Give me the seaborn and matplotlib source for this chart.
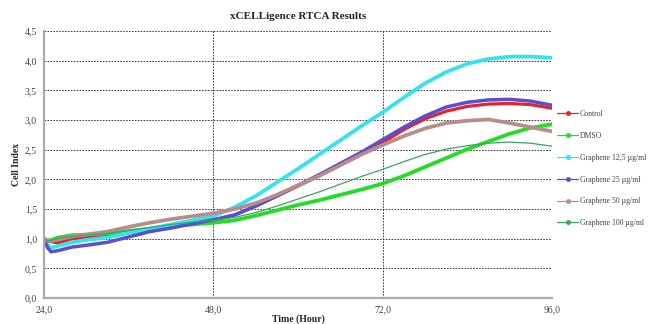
import numpy as np
import pandas as pd
import matplotlib
matplotlib.use("Agg")
import matplotlib.pyplot as plt
from matplotlib.lines import Line2D
from matplotlib.ticker import FuncFormatter
import seaborn as sns

# zeitpunkte (stunden)
time_h = [24, 24.5, 25, 26, 28, 30, 33, 36, 39, 42, 45, 48, 51, 54, 57, 60,
          63, 66, 69, 72, 75, 78, 81, 84, 87, 90, 93, 96]

# cell index werte
control = [1.00, 0.97, 0.95, 0.93, 1.00, 1.02, 1.04, 1.10, 1.16, 1.22, 1.27, 1.31, 1.40, 1.55,
           1.72, 1.89, 2.06, 2.24, 2.43, 2.62, 2.84, 3.02, 3.15, 3.23, 3.27, 3.28, 3.26, 3.20]
dmso = [1.00, 0.97, 0.98, 1.02, 1.06, 1.07, 1.09, 1.13, 1.17, 1.21, 1.24, 1.27, 1.31, 1.39,
        1.48, 1.57, 1.65, 1.74, 1.83, 1.93, 2.06, 2.21, 2.36, 2.51, 2.64, 2.77, 2.87, 2.93]
g12_5 = [1.00, 0.90, 0.85, 0.88, 0.94, 0.98, 1.02, 1.10, 1.17, 1.24, 1.31, 1.38, 1.53, 1.72,
         1.95, 2.18, 2.42, 2.66, 2.90, 3.13, 3.38, 3.62, 3.81, 3.95, 4.03, 4.07, 4.07, 4.05]
g25 = [1.00, 0.85, 0.78, 0.80, 0.86, 0.89, 0.94, 1.03, 1.12, 1.18, 1.25, 1.32, 1.40, 1.55,
       1.72, 1.90, 2.08, 2.27, 2.46, 2.67, 2.88, 3.07, 3.22, 3.30, 3.34, 3.35, 3.32, 3.25]
g50 = [1.00, 0.97, 0.96, 0.99, 1.04, 1.07, 1.12, 1.20, 1.27, 1.33, 1.38, 1.43, 1.50, 1.60,
       1.74, 1.90, 2.06, 2.24, 2.42, 2.58, 2.73, 2.86, 2.95, 2.99, 3.01, 2.95, 2.88, 2.81]
g100 = [1.00, 0.96, 0.97, 1.01, 1.04, 1.06, 1.09, 1.14, 1.19, 1.24, 1.28, 1.31, 1.36, 1.44,
        1.55, 1.67, 1.79, 1.92, 2.05, 2.17, 2.30, 2.42, 2.51, 2.57, 2.61, 2.63, 2.61, 2.56]

labels = ["Control", "DMSO", "Graphene 12,5 µg/ml", "Graphene 25 µg/ml",
          "Graphene 50 µg/ml", "Graphene 100 µg/ml"]
series = [control, dmso, g12_5, g25, g50, g100]
colors = ["#e3242b", "#22dd22", "#33e3ee", "#5b4fcf", "#b98c8c", "#3aa565"]
widths = [2.3, 2.7, 2.7, 2.5, 2.7, 0.9]

sns.set_style("white")
plt.rcParams["font.family"] = ["Liberation Serif", "DejaVu Serif"]

fig = plt.figure(figsize=(6.49, 3.24), dpi=100)
ax = fig.add_axes([0.0678, 0.080, 0.7827, 0.824])

for vals, lab, c, w in zip(series, labels, colors, widths):
    sns.lineplot(x=time_h, y=vals, ax=ax, color=c, lw=w, label=lab, legend=False)

ax.set_xlim(24, 96)
ax.set_ylim(0, 4.5)
ax.set_xticks([24, 48, 72, 96])
ax.set_yticks(np.arange(0, 4.51, 0.5))
fmt = FuncFormatter(lambda v, p: f"{v:.1f}".replace(".", ","))
ax.xaxis.set_major_formatter(fmt)
ax.yaxis.set_major_formatter(fmt)
ax.tick_params(labelsize=7, colors="#444444", length=3, width=0.8, pad=2)
ax.tick_params(axis="both", color="#999999")

ax.grid(True, color="#222222", linestyle=(0, (2, 1.5)), linewidth=0.6)
for s in ["top", "right"]:
    ax.spines[s].set_visible(False)
for s in ["left", "bottom"]:
    ax.spines[s].set_color("#aaaaaa")
    ax.spines[s].set_linewidth(1.6)

ax.set_title("xCELLigence RTCA Results", fontsize=8, fontweight="bold", pad=9)
ax.set_xlabel("Time (Hour)", fontsize=7, fontweight="bold", labelpad=0)
ax.set_ylabel("Cell Index", fontsize=7, fontweight="bold", labelpad=3)

handles = [Line2D([0], [0], color=c, lw=0.9, marker="o", markersize=2.5)
           for c in colors]
ax.legend(handles, labels, loc="upper left", bbox_to_anchor=(1.0, 0.725),
          frameon=False, fontsize=5.6, labelspacing=1.78, handlelength=2.6,
          handletextpad=0.3, borderaxespad=0.3, labelcolor="#444444")

plt.savefig("out.png", dpi=100)
